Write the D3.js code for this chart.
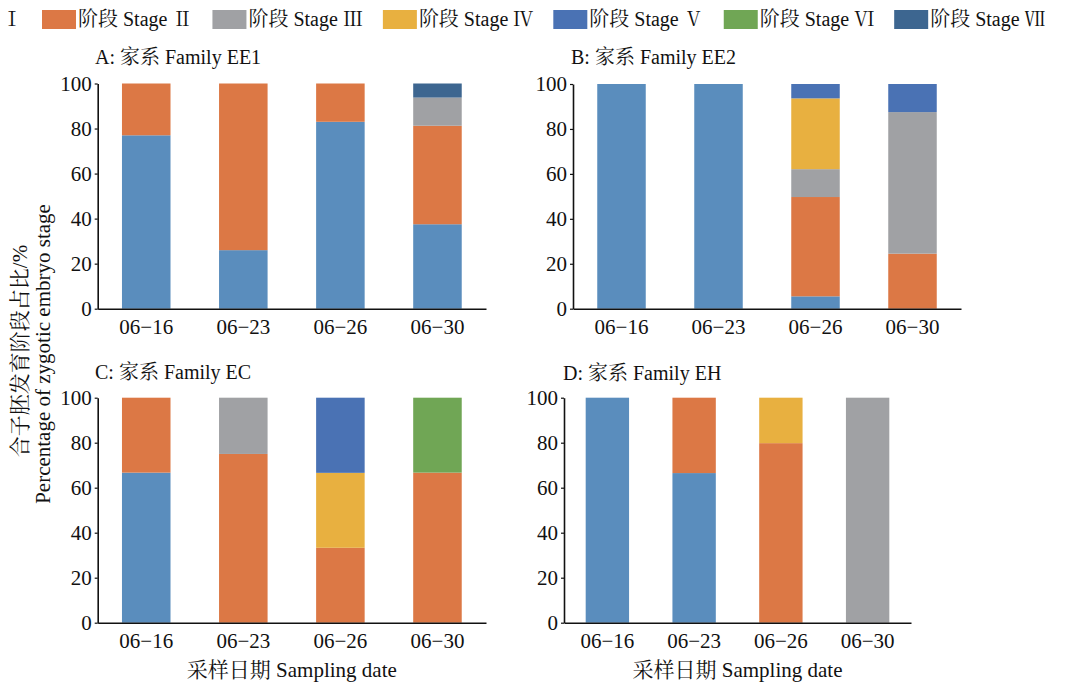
<!DOCTYPE html>
<html>
<head>
<meta charset="utf-8">
<script src="https://cdn.jsdelivr.net/npm/d3@7"></script>
<style>
  body { margin: 0; background: #fff; }
</style>
</head>
<body>
<div id="wrapper"></div>
<script>
// data
const stageNames = ["Ⅰ", "Ⅱ", "Ⅲ", "Ⅳ", "Ⅴ", "Ⅵ", "Ⅶ"]
const stageColors = ["#5a8dbd", "#dc7845", "#a0a1a4", "#e8b040", "#4a72b4", "#70a655", "#3d6690"]
const dates = ["06−16", "06−23", "06−26", "06−30"]
const panelTitles = ["A: 家系 Family EE1", "B: 家系 Family EE2", "C: 家系 Family EC", "D: 家系 Family EH"]
const yTicks = [0, 20, 40, 60, 80, 100]

// % of embryos per stage (Ⅰ..Ⅶ) for each date
const familyEE1 = [
  [77, 23, 0, 0, 0, 0, 0],
  [26, 74, 0, 0, 0, 0, 0],
  [83, 17, 0, 0, 0, 0, 0],
  [37.5, 43.75, 12.5, 0, 0, 0, 6.25],
]
const familyEE2 = [
  [100, 0, 0, 0, 0, 0, 0],
  [100, 0, 0, 0, 0, 0, 0],
  [5.5, 44.2, 12.4, 31.5, 6.4, 0, 0],
  [0, 24.5, 63, 0, 12.5, 0, 0],
]
const familyEC = [
  [66.7, 33.3, 0, 0, 0, 0, 0],
  [0, 75, 25, 0, 0, 0, 0],
  [0, 33.3, 0, 33.3, 33.4, 0, 0],
  [0, 66.7, 0, 0, 0, 33.3, 0],
]
const familyEH = [
  [100, 0, 0, 0, 0, 0, 0],
  [66.5, 33.5, 0, 0, 0, 0, 0],
  [0, 79.8, 0, 20.2, 0, 0, 0],
  [0, 0, 100, 0, 0, 0, 0],
]
const families = [familyEE1, familyEE2, familyEC, familyEH]

// layout
const width = 1087, height = 687
const FONT = '"Liberation Serif", "Noto Serif CJK SC", serif'
const CJK = '"Noto Serif CJK SC", "Liberation Serif", serif'
const panels = [
  { x0: 97.7, x1: 486, top: 83.5, bottom: 308.7, tx: 95, ty: 64 },
  { x0: 573, x1: 961, top: 84, bottom: 308.7, tx: 571, ty: 64 },
  { x0: 97.7, x1: 486, top: 397.7, bottom: 622.7, tx: 95, ty: 379 },
  { x0: 564, x1: 911, top: 397.7, bottom: 622.7, tx: 563, ty: 380 },
]

const svg = d3.select("#wrapper").append("svg")
    .attr("width", width)
    .attr("height", height)
    .style("font-family", FONT)

const stack = d3.stack().keys(d3.range(stageNames.length))

panels.forEach((p, i) => {
  const rows = families[i].map((vals, j) => {
    const o = { date: dates[j] }
    vals.forEach((v, k) => o[k] = v)
    return o
  })
  const series = stack(rows)

  const xScale = d3.scaleBand()
      .domain(dates)
      .range([p.x0, p.x1])
      .paddingInner(0.5)
      .paddingOuter(0.25)
  const yScale = d3.scaleLinear()
      .domain([0, 100])
      .range([p.bottom, p.top])

  const g = svg.append("g")

  g.selectAll("g.layer")
    .data(series)
    .join("g")
      .attr("class", "layer")
      .attr("fill", d => stageColors[d.key])
    .selectAll("rect")
    .data(d => d.filter(s => s[1] - s[0] > 0))
    .join("rect")
      .attr("x", d => xScale(d.data.date))
      .attr("width", xScale.bandwidth())
      .attr("y", d => yScale(d[1]))
      .attr("height", d => yScale(d[0]) - yScale(d[1]))

  const xAxis = g.append("g")
      .attr("transform", `translate(0,${p.bottom})`)
      .call(d3.axisBottom(xScale).tickSize(0).tickSizeOuter(0).tickPadding(10))
  xAxis.select(".domain").attr("stroke", "#111").attr("stroke-width", 1.6)
  xAxis.selectAll("text").style("font-family", FONT).style("font-size", "21px").attr("fill", "#111")

  const yAxis = g.append("g")
      .attr("transform", `translate(${p.x0},0)`)
      .call(d3.axisLeft(yScale).tickValues(yTicks).tickSize(3).tickSizeOuter(0).tickPadding(3))
  yAxis.select(".domain").attr("stroke", "#111").attr("stroke-width", 1.6)
  yAxis.selectAll("line").attr("stroke", "#111").attr("stroke-width", 1.2)
  yAxis.selectAll("text").style("font-family", FONT).style("font-size", "21px").attr("fill", "#111")

  g.append("text")
      .attr("x", p.tx)
      .attr("y", p.ty)
      .style("font-family", FONT)
      .style("font-size", "20px")
      .attr("fill", "#111")
      .text(panelTitles[i])

  if (i >= 2) {
    g.append("text")
        .attr("x", (p.x0 + p.x1) / 2)
        .attr("y", 677)
        .attr("text-anchor", "middle")
        .style("font-family", FONT)
        .style("font-size", "21px")
        .attr("fill", "#111")
        .text("采样日期 Sampling date")
  }
})

// y axis title
svg.append("text")
    .attr("transform", "translate(27,351) rotate(-90)")
    .attr("text-anchor", "middle")
    .style("font-family", FONT)
    .style("font-size", "21px")
    .attr("fill", "#111")
    .text("合子胚发育阶段占比/%")
svg.append("text")
    .attr("transform", "translate(50,354) rotate(-90)")
    .attr("text-anchor", "middle")
    .style("font-family", FONT)
    .style("font-size", "21px")
    .attr("fill", "#111")
    .text("Percentage of zygotic embryo stage")

// legend, Stage II swatch anchored at x=42, items flow from measured text widths
const legend = svg.append("g")
const items = legend.selectAll("g")
  .data(stageNames)
  .join("g")
items.append("rect")
    .attr("y", 10)
    .attr("width", 34)
    .attr("height", 19)
    .attr("fill", (d, i) => stageColors[i])
const labels = items.append("text")
    .attr("x", 36)
    .attr("y", 26)
    .style("font-family", FONT)
    .style("font-size", "20px")
    .attr("fill", "#111")
labels.append("tspan").text("阶段 Stage ")
labels.append("tspan").style("font-family", CJK).text(d => d)

const widths = []
labels.each(function () { widths.push(this.getComputedTextLength()) })
const gap = 20
const xs = [0]
widths.forEach((w, i) => { if (i > 0) xs.push(xs[i - 1] + 36 + widths[i - 1] + gap) })
const shift = 42 - xs[1]
items.attr("transform", (d, i) => `translate(${xs[i] + shift},0)`)
</script>
</body>
</html>
